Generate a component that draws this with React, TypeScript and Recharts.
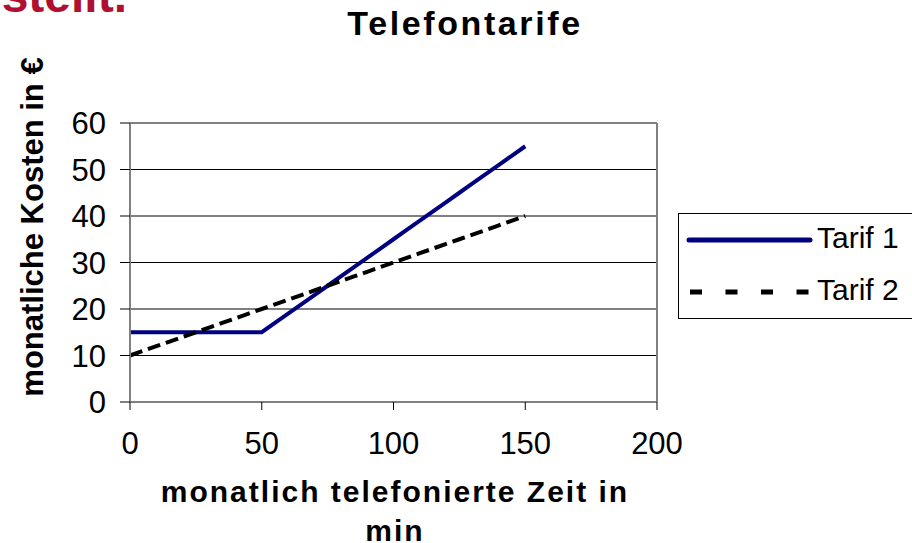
import React from 'react';
import { LineChart, Line, XAxis, YAxis, CartesianGrid, ReferenceLine } from 'recharts';

const minutes = [0, 5, 10, 15, 20, 25, 30, 35, 40, 45, 50, 55, 60, 65, 70, 75, 80, 85, 90, 95, 100, 105, 110, 115, 120, 125, 130, 135, 140, 145, 150];
const tarif1 = [15, 15, 15, 15, 15, 15, 15, 15, 15, 15, 15, 17, 19, 21, 23, 25, 27, 29, 31, 33, 35, 37, 39, 41, 43, 45, 47, 49, 51, 53, 55];
const tarif2 = [10, 11, 12, 13, 14, 15, 16, 17, 18, 19, 20, 21, 22, 23, 24, 25, 26, 27, 28, 29, 30, 31, 32, 33, 34, 35, 36, 37, 38, 39, 40];
const xTicks = [0, 50, 100, 150, 200];
const yTicks = [0, 10, 20, 30, 40, 50, 60];
const seriesNames = ['Tarif 1', 'Tarif 2'];

const data = minutes.map((t, i) => ({ t, tarif1: tarif1[i], tarif2: tarif2[i] }));

const FONT = '"Liberation Sans", Arial, sans-serif';

const LegendBox = () => (
  <div style={{ position: 'absolute', left: 678, top: 213, width: 250, height: 106, border: '1px solid #000', boxSizing: 'border-box', background: '#fff' }}>
    <svg width={250} height={104} style={{ display: 'block' }}>
      <line x1={10} y1={26} x2={131} y2={26} stroke="#000080" strokeWidth={5} strokeLinecap="round" />
      <text x={138} y={34} fontSize={30} fontFamily={FONT} fill="#000">{seriesNames[0]}</text>
      <line x1={11} y1={78} x2={131} y2={78} stroke="#000" strokeWidth={5} strokeDasharray="12 23.5" />
      <text x={138} y={86} fontSize={30} fontFamily={FONT} fill="#000">{seriesNames[1]}</text>
    </svg>
  </div>
);

export default function App() {
  return (
    <div style={{ position: 'absolute', left: 0, top: 0, width: 912, height: 543, overflow: 'hidden', background: '#fff' }}>
      <LineChart width={912} height={543} data={data} margin={{ top: 123, right: 255, bottom: 0, left: 50 }}>
        <CartesianGrid vertical={false} horizontal={true} stroke="#000" strokeWidth={1} />
        <XAxis
          type="number"
          dataKey="t"
          domain={[0, 200]}
          ticks={xTicks}
          height={141}
          tickSize={8}
          tickMargin={22}
          axisLine={{ stroke: '#808080', strokeWidth: 2 }}
          tickLine={{ stroke: '#000', strokeWidth: 1 }}
          tick={{ fontSize: 31, fill: '#000', fontFamily: FONT }}
          interval={0}
        />
        <YAxis
          type="number"
          domain={[0, 60]}
          ticks={yTicks}
          width={80}
          tickSize={10}
          tickMargin={14}
          axisLine={{ stroke: '#808080', strokeWidth: 2 }}
          tickLine={{ stroke: '#000', strokeWidth: 1 }}
          tick={{ fontSize: 31, fill: '#000', fontFamily: FONT }}
          interval={0}
        />
        <ReferenceLine y={60} stroke="#808080" strokeWidth={2} />
        <ReferenceLine x={200} stroke="#808080" strokeWidth={2} />
        <Line
          type="linear"
          dataKey="tarif1"
          name={seriesNames[0]}
          stroke="#000080"
          strokeWidth={4}
          dot={false}
          isAnimationActive={false}
        />
        <Line
          type="linear"
          dataKey="tarif2"
          name={seriesNames[1]}
          stroke="#000"
          strokeWidth={4}
          strokeDasharray="13 6"
          dot={false}
          isAnimationActive={false}
        />
      </LineChart>
      <LegendBox />
      <svg width={912} height={543} style={{ position: 'absolute', left: 0, top: 0, pointerEvents: 'none' }}>
        <text x={127} y={12} textAnchor="end" fontSize={48} fontWeight="bold" fontFamily={FONT} fill="#B01030">stellt.</text>
        <text x={465} y={35} textAnchor="middle" fontSize={34} fontWeight="bold" fontFamily={FONT} fill="#000" style={{ letterSpacing: 2.6 }}>Telefontarife</text>
        <text
          x={43}
          y={227}
          textAnchor="middle"
          fontSize={31}
          fontWeight="bold"
          fontFamily={FONT}
          fill="#000"
          transform="rotate(-90 43 227)"
        >
          monatliche Kosten in €
        </text>
        <text x={395} y={502} textAnchor="middle" fontSize={30} fontWeight="bold" fontFamily={FONT} fill="#000" style={{ letterSpacing: 2 }}>
          monatlich telefonierte Zeit in
        </text>
        <text x={395} y={541} textAnchor="middle" fontSize={30} fontWeight="bold" fontFamily={FONT} fill="#000" style={{ letterSpacing: 2 }}>
          min
        </text>
      </svg>
    </div>
  );
}
